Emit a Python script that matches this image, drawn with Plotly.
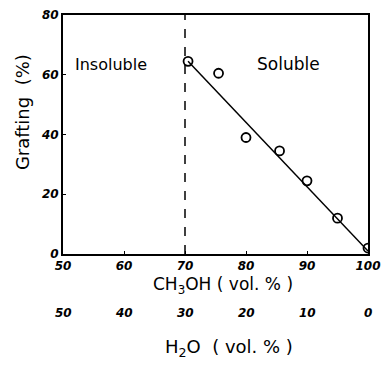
import plotly.graph_objects as go

# Data
ch3oh = [70.5, 75.5, 80, 85.5, 90, 95, 100]
grafting = [64.5, 60.5, 39, 34.5, 24.5, 12, 2]
fit_x = [70.5, 100]
fit_y = [64.5, 1]
boundary_x = 70
x_ticks = [50, 60, 70, 80, 90, 100]
h2o_ticks = [50, 40, 30, 20, 10, 0]
y_ticks = [0, 20, 40, 60, 80]

tickfont = dict(family="DejaVu Sans", size=12, color="black", style="italic", weight="bold")

fig = go.Figure()
fig.add_trace(go.Scatter(x=fit_x, y=fit_y, mode="lines",
                         line=dict(color="black", width=1.5), showlegend=False))
fig.add_trace(go.Scatter(x=ch3oh, y=grafting, mode="markers",
                         marker=dict(symbol="circle-open", size=9, color="black",
                                     line=dict(width=1.8, color="black")),
                         showlegend=False))

fig.add_shape(type="line", xref="x", yref="y", x0=boundary_x, x1=boundary_x, y0=0, y1=80,
              line=dict(color="black", width=1.5, dash="dash"))

fig.add_annotation(x=57.9, y=63.5, text="Insoluble", showarrow=False,
                   font=dict(family="DejaVu Sans", size=16, color="black"))
fig.add_annotation(x=87.0, y=63.5, text="Soluble", showarrow=False,
                   font=dict(family="DejaVu Sans", size=17, color="black"))

# Secondary H2O scale
for xv, lab in zip(x_ticks, h2o_ticks):
    fig.add_annotation(x=xv, xref="x", y=0, yref="paper", yshift=-59, text=str(lab),
                       showarrow=False, font=tickfont, yanchor="middle")

fig.add_annotation(x=76.3, xref="x", y=0, yref="paper", yshift=-31,
                   text="CH<sub>3</sub>OH ( vol. % )", showarrow=False, yanchor="middle",
                   font=dict(family="DejaVu Sans", size=17, color="black"))
fig.add_annotation(x=77.2, xref="x", y=0, yref="paper", yshift=-94,
                   text="H<sub>2</sub>O  ( vol. % )", showarrow=False, yanchor="middle",
                   font=dict(family="DejaVu Sans", size=18, color="black"))
fig.add_annotation(x=0, xref="paper", xshift=-41, xanchor="center", y=47.5, yref="y",
                   text="Grafting  (%)", textangle=-90, showarrow=False,
                   font=dict(family="DejaVu Sans", size=18, color="black"))

fig.update_xaxes(range=[50, 100], tickvals=x_ticks, showline=True, mirror=True,
                 linecolor="black", linewidth=2, ticks="inside", ticklen=3,
                 tickcolor="black", showgrid=False, zeroline=False, tickfont=tickfont,
                 ticklabeloverflow="allow", automargin=False)
fig.update_yaxes(range=[0, 80], tickvals=y_ticks, showline=True, mirror=True,
                 linecolor="black", linewidth=2, ticks="inside", ticklen=3,
                 tickcolor="black", showgrid=False, zeroline=False, tickfont=tickfont,
                 ticklabeloverflow="allow", automargin=False)

fig.update_layout(width=381, height=365, margin=dict(l=63, r=13, t=15, b=111, autoexpand=False),
                  plot_bgcolor="white", paper_bgcolor="white")
fig.write_html("out.html", config={"displayModeBar": False},
               post_script="document.body.style.margin='0';document.body.style.overflow='hidden';")
